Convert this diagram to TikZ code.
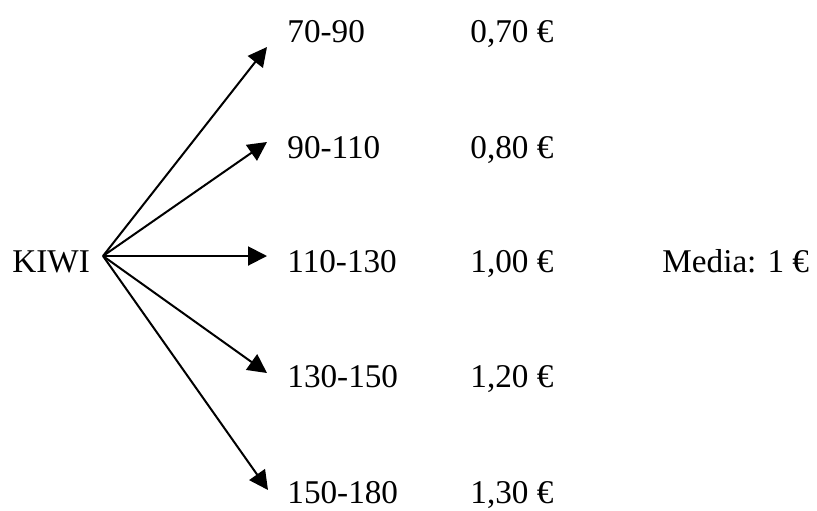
\documentclass[tikz,border=0pt]{standalone}
\usepackage{fontspec}
\setmainfont{Liberation Serif}
\usepackage{tikz}
\usetikzlibrary{arrows.meta}

\begin{document}
\begin{tikzpicture}[x=0.5pt,y=-0.5pt,
          lbl/.style={anchor=base west,inner sep=0pt,
                      font=\fontsize{16.6}{20}\selectfont},
          branch/.style={line width=1pt,
                         -{Triangle[length=9.5pt,width=9.5pt]}}]
        \useasboundingbox (0,0) rectangle (817,510);
        \node[lbl] (kiwi) at (12,272) {KIWI};
        \coordinate (o) at (103,256);
        % sizes
        \node[lbl] (s1) at (287,42)  {70-90};
        \node[lbl] (s2) at (287,158) {90-110};
        \node[lbl] (s3) at (287,272) {110-130};
        \node[lbl] (s4) at (287,387) {130-150};
        \node[lbl] (s5) at (287,503) {150-180};
        % prices
        \node[lbl] (p1) at (470,42)  {0,70 €};
        \node[lbl] (p2) at (470,158) {0,80 €};
        \node[lbl] (p3) at (470,272) {1,00 €};
        \node[lbl] (p4) at (470,387) {1,20 €};
        \node[lbl] (p5) at (470,503) {1,30 €};
        \node[lbl] (media) at (662,272) {Media: 1 €};
        % arrow tips
        \coordinate (t1) at (267,47);
        \coordinate (t2) at (267,142);
        \coordinate (t3) at (267,256);
        \coordinate (t4) at (267,373);
        \coordinate (t5) at (268,490);
        \foreach \i in {1,...,5}
          \draw[branch] (o) -- (t\i);
      \end{tikzpicture}
\end{document}
